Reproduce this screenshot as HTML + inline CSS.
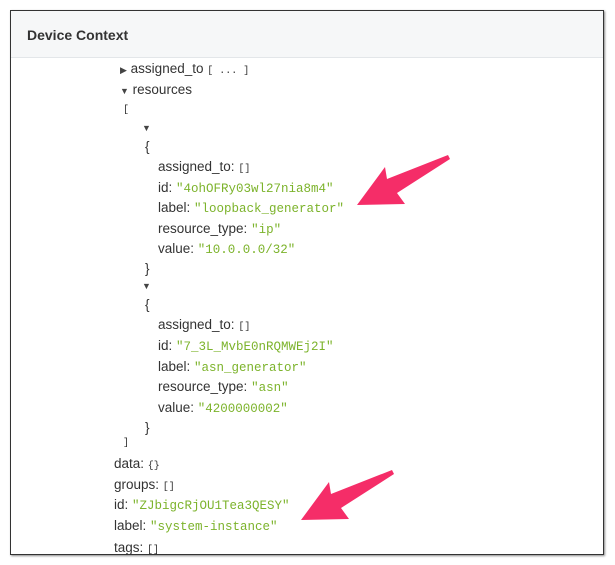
<!DOCTYPE html>
<html><head><style>
body{margin:0;width:615px;height:565px;background:#fff;position:relative;overflow:hidden;font-family:"Liberation Sans",sans-serif;}
.box{position:absolute;left:10px;top:10px;width:592px;height:543px;border:1.5px solid #333;box-shadow:1px 1px 2px #888;}
.hd{position:absolute;left:0;top:0;right:0;height:46px;background:#f6f7f8;border-bottom:1px solid #e3e6e9;}
.hd span{position:absolute;left:16px;top:16px;font-size:14px;font-weight:bold;color:#333;}
.r{position:absolute;font-size:13.5px;color:#333;white-space:nowrap;line-height:16px;}
.s{font-family:"Liberation Mono",monospace;color:#7cb32b;font-size:12.5px;}
.b{font-family:"Liberation Mono",monospace;font-size:10px;color:#333;}
.t{font-size:9px;color:#444;}
</style></head><body>
<div class="box"><div class="hd"><span>Device Context</span></div></div>
<div class="r" style="left:120px;top:61px"><span class="t">▶</span> assigned_to <span class="b">[ ... ]</span></div>
<div class="r" style="left:120px;top:82px"><span class="t">▼</span> resources</div>
<div class="r b" style="left:123px;top:103px">[</div>
<div class="r" style="left:142px;top:119px"><span class="t">▼</span></div>
<div class="r" style="left:145px;top:139px">{</div>
<div class="r" style="left:158px;top:159px">assigned_to: <span class="b">[]</span></div>
<div class="r" style="left:158px;top:180px">id: <span class="s">"4ohOFRy03wl27nia8m4"</span></div>
<div class="r" style="left:158px;top:200px">label: <span class="s">"loopback_generator"</span></div>
<div class="r" style="left:158px;top:221px">resource_type: <span class="s">"ip"</span></div>
<div class="r" style="left:158px;top:241px">value: <span class="s">"10.0.0.0/32"</span></div>
<div class="r" style="left:145px;top:261px">}</div>
<div class="r" style="left:142px;top:277px"><span class="t">▼</span></div>
<div class="r" style="left:145px;top:297px">{</div>
<div class="r" style="left:158px;top:317px">assigned_to: <span class="b">[]</span></div>
<div class="r" style="left:158px;top:338px">id: <span class="s">"7_3L_MvbE0nRQMWEj2I"</span></div>
<div class="r" style="left:158px;top:359px">label: <span class="s">"asn_generator"</span></div>
<div class="r" style="left:158px;top:379px">resource_type: <span class="s">"asn"</span></div>
<div class="r" style="left:158px;top:400px">value: <span class="s">"4200000002"</span></div>
<div class="r" style="left:145px;top:420px">}</div>
<div class="r b" style="left:123px;top:436px">]</div>
<div class="r" style="left:114px;top:456px">data: <span class="b">{}</span></div>
<div class="r" style="left:114px;top:477px">groups: <span class="b">[]</span></div>
<div class="r" style="left:114px;top:497px">id: <span class="s">"ZJbigcRjOU1Tea3QESY"</span></div>
<div class="r" style="left:114px;top:518px">label: <span class="s">"system-instance"</span></div>
<div class="r" style="left:114px;top:540px">tags: <span class="b">[]</span></div>
<svg width="615" height="565" style="position:absolute;left:0;top:0">
<g fill="#f52d68">
<polygon transform="translate(357,205)" points="0,0 28,-38 30,-26 91,-50 93,-46 40,-12 48,-1"/>
<polygon transform="translate(301,520)" points="0,0 28,-38 30,-26 91,-50 93,-46 40,-12 48,-1"/>
</g></svg>
</body></html>
